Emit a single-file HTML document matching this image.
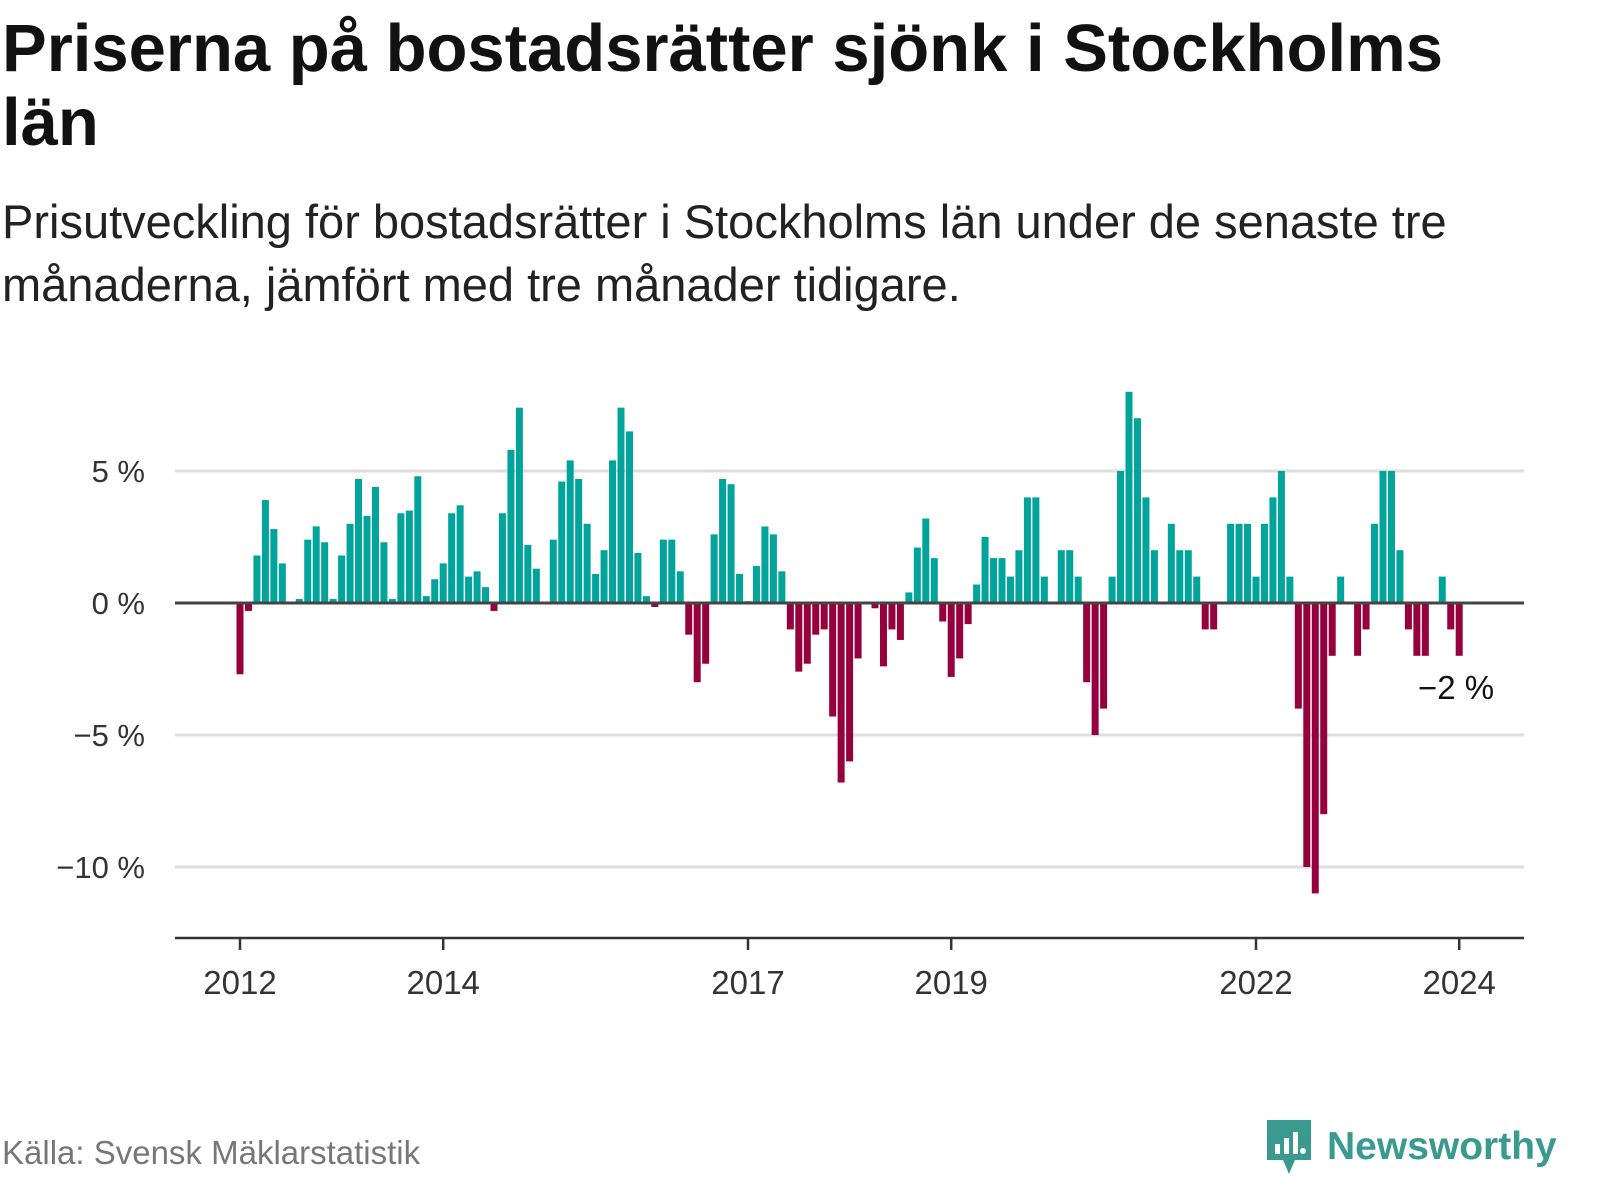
<!DOCTYPE html>
<html><head><meta charset="utf-8">
<style>
html,body{margin:0;padding:0;background:#fff;}
body{width:1600px;height:1200px;position:relative;overflow:hidden;font-family:"Liberation Sans","DejaVu Sans",sans-serif;color:#111;}
#title{position:absolute;left:2px;top:12px;width:1598px;font-size:67px;font-weight:bold;line-height:74px;color:#111;margin:0;white-space:nowrap;}
#sub{position:absolute;left:2px;top:190px;width:1598px;font-size:47px;line-height:63px;color:#222;margin:0;white-space:nowrap;}
#src{position:absolute;left:2px;top:1134px;font-size:33px;color:#777;}
#logo{position:absolute;left:1265px;top:1118px;display:flex;align-items:center;}
#logo span{font-size:39px;font-weight:bold;color:#3a9a90;margin-left:14px;}
svg{position:absolute;left:0;top:0;}
</style></head>
<body>
<h1 id="title">Priserna på bostadsrätter sjönk i Stockholms<br>län</h1>
<p id="sub">Prisutveckling för bostadsrätter i Stockholms län under de senaste tre<br>månaderna, jämfört med tre månader tidigare.</p>
<svg id="chart" width="1600" height="1200"></svg>
<div id="src">Källa: Svensk Mäklarstatistik</div>
<div id="logo">
<svg width="48" height="58" viewBox="0 0 48 58" style="position:static"><path d="M2 2h44v40H30l-6 14-6-14H2z" fill="#3a9a90"/><rect x="10" y="26" width="5" height="10" fill="#fff"/><rect x="19" y="20" width="5" height="16" fill="#fff"/><rect x="28" y="14" width="5" height="22" fill="#fff"/><circle cx="38" cy="33" r="3" fill="#fff"/></svg>
<span>Newsworthy</span>
</div>
<script>
const values = [
-2.7,-0.3,1.8,3.9,2.8,1.5,0,0.15,2.4,2.9,2.3,0.15,1.8,3.0,4.7,3.3,4.4,2.3,0.15,3.4,3.5,4.8,0.26,0.9,1.5,3.4,3.7,1.0,1.2,0.6,-0.3,3.4,5.8,7.4,2.2,1.3,
0,2.4,4.6,5.4,4.7,3.0,1.1,2.0,5.4,7.4,6.5,1.9,0.26,-0.15,2.4,2.4,1.2,-1.2,-3.0,-2.3,2.6,4.7,4.5,1.1,0.07,1.4,2.9,2.6,1.2,-1.0,-2.6,-2.3,-1.2,-1.0,-4.3,-6.8,-6.0,
-2.1,0,-0.2,-2.4,-1.0,-1.4,0.4,2.1,3.2,1.7,-0.7,-2.8,-2.1,-0.8,0.7,2.5,1.7,1.7,1.0,2.0,4.0,4.0,1.0,0,2,2,1,-3,-5,-4,1,5,8,7,4,2,
0,3,2,2,1,-1,-1,0,3,3,3,1,3,4,5,1,-4,-10,-11,-8,-2,1,0,-2,-1,3,5,5,2,-1,-2,-2,0,1,-1,-2];
const startYear = 2012;
const yTicks = [5,0,-5,-10];
const yTickLabels = ["5 %","0 %","−5 %","−10 %"];
const xTickYears = [2012,2014,2017,2019,2022,2024];
const lastLabel = "−2 %";

const NS="http://www.w3.org/2000/svg";
const svg=document.getElementById('chart');
const x0=240, pxPerMonth=101.6/12, y0=603, pxPerPct=26.4;
const xm=i=>x0+i*pxPerMonth;
const y=v=>y0-v*pxPerPct;
function mk(tag,attrs){const e=document.createElementNS(NS,tag);for(const k in attrs)e.setAttribute(k,attrs[k]);svg.appendChild(e);return e;}
yTicks.forEach((t,i)=>{
  if(t!==0){const g=mk('line',{x1:175,x2:1524,y1:y(t),y2:y(t),stroke:'#dedede','stroke-width':3});
  
  }
  const tx=mk('text',{x:145,y:y(t)+11,'text-anchor':'end','font-size':31,fill:'#333','font-family':'Liberation Sans, sans-serif'});
  tx.textContent=yTickLabels[i];
  
  
});
values.forEach((v,i)=>{
  const r=mk('rect',{x:xm(i)-3.5,y:Math.min(y(v),y0),width:7,height:Math.abs(v)*pxPerPct,fill:v>=0?'#00a49a':'#96003c'});
  
  
});
const z=mk('line',{x1:175,x2:1524,y1:y0,y2:y0,stroke:'#444','stroke-width':3});


const ax=mk('line',{x1:175,x2:1524,y1:938,y2:938,stroke:'#333','stroke-width':2.5});


xTickYears.forEach(yr=>{
  const xx=xm((yr-startYear)*12);
  const t=mk('line',{x1:xx,x2:xx,y1:938,y2:950,stroke:'#333','stroke-width':2.5});
  
  
  const tx=mk('text',{x:xx,y:994,'text-anchor':'middle','font-size':33,fill:'#333','font-family':'Liberation Sans, sans-serif'});
  tx.textContent=yr;
  
  
});
const ll=mk('text',{x:1418,y:y(values[values.length-1])+43,'font-size':33,fill:'#111','font-family':'Liberation Sans, sans-serif'});
ll.textContent=lastLabel;


</script>
</body></html>
